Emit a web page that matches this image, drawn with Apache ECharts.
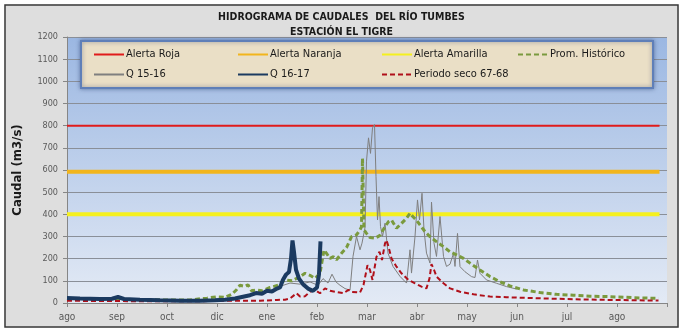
<!DOCTYPE html>
<html>
<head>
<meta charset="utf-8">
<script src="https://cdn.jsdelivr.net/npm/echarts@6/dist/echarts.min.js"></script>
<style>html,body{margin:0;padding:0;background:#fff}#c{width:683px;height:332px}</style>
</head>
<body>
<div id="c"></div>
<script>
// x values are months since 1 Aug (0 = ago, 12 = end of the hydrological year)
var monthLabels = ['ago','sep','oct','dic','ene','feb','mar','abr','may','jun','jul','ago'];
var yTicks = [0,100,200,300,400,500,600,700,800,900,1000,1100,1200];

var alertaRoja = [[0,800],[11.85,800]];
var alertaNaranja = [[0,592],[11.85,592]];
var alertaAmarilla = [[0,400],[11.85,400]];

var promHistorico = [[0,20],[0.66,18],[1.26,16],[1.86,14],[2.46,14],[2.8,22],[3.0,28],[3.16,25],[3.3,40],[3.39,60],[3.46,80],[3.56,75],[3.62,82],[3.69,55],[3.79,59],[3.9,55],[4.06,70],[4.22,80],[4.36,104],[4.5,100],[4.66,119],[4.76,134],[4.86,125],[4.96,111],[5.06,134],[5.14,239],[5.19,224],[5.26,201],[5.33,209],[5.39,195],[5.49,224],[5.59,250],[5.69,299],[5.79,307],[5.86,330],[5.89,344],[5.91,653],[5.94,330],[5.99,314],[6.06,295],[6.16,292],[6.26,305],[6.36,344],[6.43,367],[6.49,374],[6.59,337],[6.69,359],[6.79,382],[6.86,405],[6.92,389],[6.99,374],[7.06,352],[7.16,322],[7.26,299],[7.39,277],[7.53,254],[7.66,231],[7.79,217],[7.93,201],[8.06,180],[8.26,149],[8.46,119],[8.66,96],[8.86,77],[9.13,59],[9.46,47],[9.79,39],[10.13,35],[10.46,31],[10.79,29],[11.13,26],[11.46,23],[11.83,21]];

var q1516 = [[0,18],[0.46,16],[1.02,20],[1.46,15],[2.06,12],[2.66,13],[3.06,18],[3.46,25],[3.76,40],[4.06,55],[4.26,75],[4.46,90],[4.66,85],[4.86,95],[5.02,80],[5.12,110],[5.22,90],[5.3,130],[5.38,95],[5.46,80],[5.56,65],[5.66,58],[5.72,210],[5.79,300],[5.86,240],[5.9,270],[5.96,340],[5.99,640],[6.03,745],[6.07,675],[6.11,790],[6.15,805],[6.18,570],[6.21,375],[6.24,480],[6.27,345],[6.31,300],[6.36,360],[6.42,225],[6.52,165],[6.66,120],[6.79,90],[6.86,240],[6.89,135],[6.96,300],[7.01,465],[7.05,375],[7.1,495],[7.14,330],[7.19,225],[7.26,180],[7.29,455],[7.34,270],[7.39,210],[7.46,390],[7.53,210],[7.59,165],[7.66,175],[7.73,224],[7.76,165],[7.81,314],[7.86,164],[7.96,141],[8.09,119],[8.16,115],[8.21,194],[8.26,134],[8.39,104],[8.59,89],[8.79,74],[8.99,63]];

var q1617 = [[0,22],[0.26,20],[0.66,18],[0.9,19],[1.02,27],[1.14,18],[1.46,15],[1.86,12],[2.26,10],[2.66,10],[2.96,12],[3.16,15],[3.36,20],[3.52,28],[3.66,35],[3.78,45],[3.9,42],[4.0,55],[4.1,52],[4.2,65],[4.26,70],[4.32,105],[4.38,128],[4.44,140],[4.48,200],[4.51,282],[4.54,230],[4.58,150],[4.64,110],[4.72,85],[4.82,65],[4.92,55],[5.0,70],[5.04,130],[5.07,278]];

var periodoSeco = [[0,10],[0.66,9],[1.66,8],[2.66,8],[3.26,10],[3.86,10],[4.2,14],[4.36,15],[4.46,20],[4.59,44],[4.66,29],[4.76,30],[4.86,51],[4.96,59],[5.06,44],[5.16,66],[5.26,55],[5.38,50],[5.53,44],[5.63,59],[5.7,50],[5.86,47],[5.93,81],[6.01,171],[6.06,149],[6.11,104],[6.19,209],[6.25,231],[6.3,194],[6.36,269],[6.39,284],[6.43,254],[6.49,201],[6.59,164],[6.69,134],[6.83,104],[6.96,89],[7.09,74],[7.19,66],[7.25,111],[7.29,175],[7.34,150],[7.39,119],[7.53,89],[7.66,66],[7.86,51],[8.13,39],[8.46,29],[8.79,26],[9.46,21],[10.13,17],[10.79,14],[11.83,11]];

var FONT = "'Liberation Sans Narrow','DejaVu Sans Condensed',sans-serif";
var chart = echarts.init(document.getElementById('c'), null, {renderer:'canvas'});

function legendCol(left, names){
  return {
    left: left, top: 44, orient: 'vertical', itemGap: 9, itemWidth: 30, itemHeight: 12,
    data: names, z: 20,
    itemStyle: {opacity: 0},
    textStyle: {fontFamily: FONT, fontSize: 11, color: '#1a1a1a', padding:[0,0,0,-3]},
    selectedMode: false
  };
}
function lineSeries(name, data, color, width, type, z){
  return {
    name: name, type: 'line', data: data, symbol: 'none', z: z,
    lineStyle: {color: color, width: width, type: type},
    itemStyle: {color: color},
    emphasis: {disabled: true}, animation: false
  };
}

chart.setOption({
  backgroundColor: '#dedede',
  animation: false,
  title: {
    text: 'HIDROGRAMA DE CAUDALES  DEL RÍO TUMBES\nESTACIÓN EL TIGRE',
    left: 'center', top: 5,
    textStyle: {fontFamily: FONT, fontSize: 10.5, fontWeight: 'bold', color: '#1a1a1a', lineHeight: 15}
  },
  grid: {
    left: 67, right: 16, top: 37, bottom: 29, show: true, borderWidth: 0,
    backgroundColor: {type:'linear', x:0, y:0, x2:0, y2:1,
      colorStops:[{offset:0,color:'#9bb7e2'},{offset:1,color:'#e3eaf5'}]}
  },
  legend: [
    legendCol(88, ['Alerta Roja','Q 15-16']),
    legendCol(232, ['Alerta Naranja','Q 16-17']),
    legendCol(376, ['Alerta Amarilla','Periodo seco 67-68']),
    legendCol(512, ['Prom. Histórico'])
  ],
  xAxis: {
    type: 'value', min: 0, max: 12, interval: 1,
    axisLine: {show: true, lineStyle: {color: '#868686'}},
    axisTick: {show: true, length: 4, lineStyle: {color: '#868686'}},
    splitLine: {show: false},
    axisLabel: {fontFamily: FONT, fontSize: 10, color: '#595959', margin: 9,
      formatter: function(v){ return monthLabels[Math.round(v)] || ''; }}
  },
  yAxis: {
    type: 'value', min: yTicks[0], max: yTicks[yTicks.length-1], interval: 100,
    name: 'Caudal (m3/s)', nameLocation: 'middle', nameGap: 43, nameRotate: 90,
    nameTextStyle: {fontFamily: FONT, fontSize: 13, fontWeight: 'bold', color: '#1a1a1a'},
    axisLine: {show: true, lineStyle: {color: '#868686'}},
    axisTick: {show: true, length: 4, lineStyle: {color: '#868686'}},
    splitLine: {show: true, lineStyle: {color: '#8a8f98', width: 1}},
    axisLabel: {fontFamily: FONT, fontSize: 9, color: '#595959', margin: 9,
      formatter: function(v){ return String(v); }}
  },
  graphic: [
    {type:'rect', z: 10, shape:{x:81, y:41, width:572, height:47},
     style:{fill:'#eadfc6', stroke:'#5f7fb8', lineWidth:2, shadowBlur:4, shadowColor:'rgba(40,60,110,0.5)'}},
    {type:'rect', z: 30, silent:true, shape:{x:0, y:0, width:683, height:332},
     style:{fill:'none', stroke:'#ffffff', lineWidth:9}},
    {type:'rect', z: 31, silent:true, shape:{x:5, y:5, width:673, height:322},
     style:{fill:'none', stroke:'#3a3a3a', lineWidth:1.5}}
  ],
  series: [
    lineSeries('Alerta Roja', alertaRoja, '#e01b1b', 2, 'solid', 2),
    lineSeries('Alerta Naranja', alertaNaranja, '#f2b51c', 4, 'solid', 2),
    lineSeries('Alerta Amarilla', alertaAmarilla, '#f5f01e', 4, 'solid', 2),
    lineSeries('Q 15-16', q1516, '#7f7f7f', 1, 'solid', 3),
    lineSeries('Prom. Histórico', promHistorico, '#7a9a3e', 3, [5,3], 4),
    lineSeries('Periodo seco 67-68', periodoSeco, '#b0101a', 2, [5,3], 5),
    lineSeries('Q 16-17', q1617, '#1b3a60', 4, 'solid', 6)
  ]
});
</script>
</body>
</html>
